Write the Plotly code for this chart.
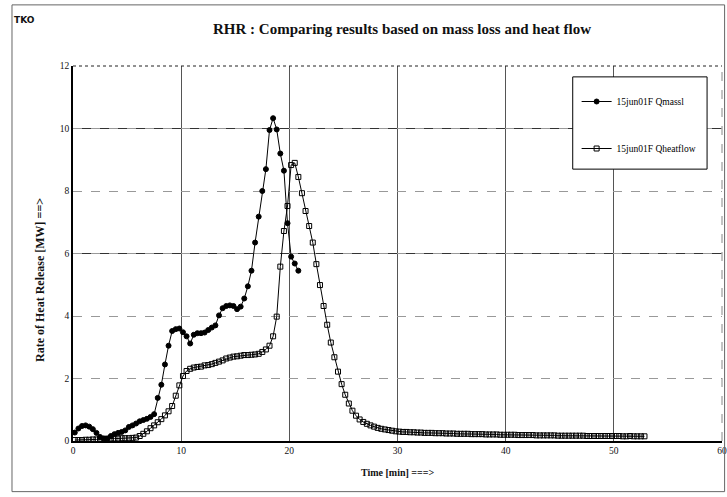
import numpy as np
import plotly.graph_objects as go

q_massl = [0.27, 0.40, 0.48, 0.50, 0.46, 0.38, 0.26, 0.13, 0.08, 0.08,
           0.16, 0.22, 0.26, 0.29, 0.34, 0.45, 0.50, 0.56, 0.63, 0.67,
           0.71, 0.77, 0.86, 1.38, 1.80, 2.45, 3.05, 3.52, 3.58, 3.60,
           3.48, 3.35, 3.12, 3.40, 3.45, 3.45, 3.47, 3.55, 3.63, 3.70,
           4.02, 4.25, 4.32, 4.34, 4.32, 4.22, 4.30, 4.56, 4.95, 5.45,
           6.35, 7.18, 8.00, 8.70, 9.95, 10.33, 9.97, 9.20, 8.65, 6.97,
           5.90, 5.68, 5.45]

q_heatflow = [0.03, 0.03, 0.03, 0.04, 0.04, 0.05, 0.05, 0.06, 0.07, 0.07,
              0.08, 0.08, 0.08, 0.09, 0.09, 0.09, 0.10, 0.11, 0.16, 0.23,
              0.31, 0.41, 0.50, 0.60, 0.70, 0.82, 0.95, 1.12, 1.45, 1.78,
              2.08, 2.24, 2.31, 2.35, 2.37, 2.38, 2.42, 2.43, 2.46, 2.50,
              2.54, 2.58, 2.64, 2.67, 2.70, 2.71, 2.73, 2.75, 2.75, 2.76,
              2.77, 2.79, 2.85, 2.93, 3.05, 3.35, 3.98, 5.58, 6.72, 7.52,
              8.83, 8.90, 8.45, 7.93, 7.36, 6.88, 6.35, 5.66, 4.99, 4.32,
              3.72, 3.15, 2.68, 2.22, 1.82, 1.48, 1.20, 0.97, 0.81, 0.69,
              0.61, 0.55, 0.50, 0.46, 0.42, 0.39, 0.37, 0.35, 0.33, 0.31,
              0.30, 0.29, 0.29, 0.28, 0.28, 0.27, 0.27, 0.26, 0.26, 0.26,
              0.25, 0.25, 0.25, 0.24, 0.24, 0.24, 0.23, 0.23, 0.23, 0.23,
              0.22, 0.22, 0.22, 0.22, 0.21, 0.21, 0.21, 0.21, 0.20, 0.20,
              0.20, 0.20, 0.20, 0.19, 0.19, 0.19, 0.19, 0.19, 0.18, 0.18,
              0.18, 0.18, 0.18, 0.18, 0.17, 0.17, 0.17, 0.17, 0.17, 0.17,
              0.17, 0.17, 0.16, 0.16, 0.16, 0.16, 0.16, 0.16, 0.16, 0.16,
              0.16, 0.16, 0.15, 0.15, 0.16, 0.15, 0.15, 0.15, 0.15]

sample_min = 1 / 3      # 20 s sampling interval
first_min = 1 / 6
t_massl = first_min + sample_min * np.arange(len(q_massl))
t_heat = first_min + sample_min * np.arange(len(q_heatflow))

names = ["15jun01F Qmassl", "15jun01F Qheatflow"]
x_ticks = [0, 10, 20, 30, 40, 50, 60]
y_ticks = [0, 2, 4, 6, 8, 10, 12]

SERIF = "Liberation Serif, Times New Roman, serif"

fig = go.Figure()
fig.add_trace(go.Scatter(
    x=t_massl, y=q_massl, mode="lines+markers", name=names[0],
    legendgroup="a",
    line=dict(color="black", width=1),
    marker=dict(symbol="circle", size=5, color="black",
                line=dict(color="black", width=1))))
fig.add_trace(go.Scatter(
    x=t_heat, y=q_heatflow, mode="lines+markers", name=names[1],
    legendgroup="b",
    line=dict(color="black", width=1),
    marker=dict(symbol="square-open", size=5, color="black",
                line=dict(color="black", width=1))))

shapes = []
for yv in (6, 10):
    shapes.append(dict(type="line", xref="paper", yref="y", x0=0, x1=1,
                       y0=yv, y1=yv, line=dict(color="#333", width=1),
                       layer="below"))
shapes.append(dict(type="line", xref="paper", yref="paper", x0=0, x1=1, y0=1, y1=1,
                   line=dict(color="#222", width=1, dash="dot")))
shapes.append(dict(type="line", xref="paper", yref="paper", x0=1, x1=1, y0=0, y1=1,
                   line=dict(color="#888", width=1, dash="dash")))
shapes.append(dict(type="rect", xref="paper", yref="paper",
                   x0=0.770, x1=0.977, y0=0.725, y1=0.971,
                   line=dict(color="black", width=1), fillcolor="white",
                   layer="above"))
shapes.append(dict(type="rect", xref="paper", yref="paper",
                   x0=-0.094, x1=1.004, y0=-0.135, y1=1.163,
                   line=dict(color="#666", width=1)))

fig.update_layout(
    width=727, height=497,
    margin=dict(l=73, r=5, t=66, b=56, autoexpand=False),
    paper_bgcolor="white", plot_bgcolor="white",
    font=dict(family=SERIF, color="black", size=9),
    showlegend=True,
    legend=dict(x=0.776, y=0.944, xanchor="left", yanchor="top",
                bgcolor="rgba(0,0,0,0)", borderwidth=0,
                font=dict(family=SERIF, size=9.5, color="#000"),
                tracegroupgap=28, itemwidth=30),
    shapes=shapes,
    annotations=[
        dict(text="<b>RHR : Comparing results based on mass loss and heat flow</b>",
             xref="paper", yref="paper", x=(402 - 73) / 649, y=(441 - 29) / 375,
             xanchor="center", yanchor="middle", showarrow=False,
             font=dict(family=SERIF, size=15, color="#111")),
        dict(text="<b>TKO</b>", xref="paper", yref="paper",
             x=(25 - 73) / 649, y=(441 - 20) / 375, xanchor="center",
             yanchor="middle", showarrow=False,
             font=dict(family="DejaVu Sans", size=9, color="#111")),
        dict(text="<b>Rate of Heat Release [MW] ==></b>", xref="paper", yref="paper",
             x=(40 - 73) / 649, y=(441 - 280) / 375, xanchor="center",
             yanchor="middle", textangle=-90, showarrow=False,
             font=dict(family=SERIF, size=12, color="#111")),
        dict(text="<b>Time [min] ===></b>", xref="paper", yref="paper",
             x=(397 - 73) / 649, y=(441 - 472) / 375, xanchor="center",
             yanchor="middle", showarrow=False,
             font=dict(family=SERIF, size=10, color="#111")),
    ],
)

fig.update_xaxes(range=[0, 60], tickvals=x_ticks, ticktext=[str(v) for v in x_ticks],
                 showline=True, linecolor="black", linewidth=1.5,
                 showgrid=True, gridcolor="#555", gridwidth=1,
                 zeroline=False, ticks="", ticklen=0,
                 tickfont=dict(family=SERIF, size=9.5, color="#111"))
fig.update_yaxes(range=[0, 12], tickvals=y_ticks, ticktext=[str(v) for v in y_ticks],
                 showline=True, linecolor="black", linewidth=1.5,
                 showgrid=True, gridcolor="#999", gridwidth=1, griddash="dash",
                 zeroline=False, ticks="", ticklen=0,
                 tickfont=dict(family=SERIF, size=9.5, color="#111"))

fig.write_html("out.html")
